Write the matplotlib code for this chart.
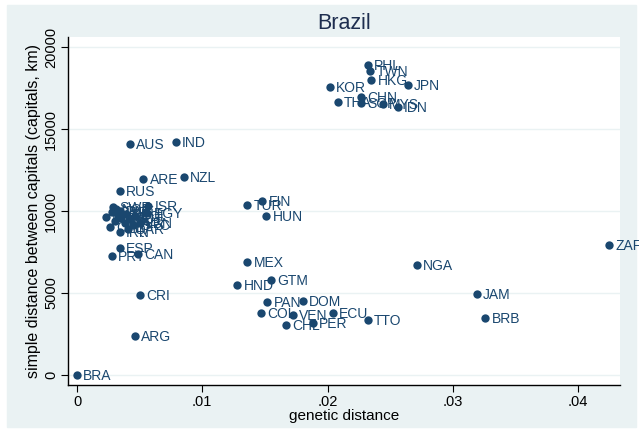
import matplotlib.pyplot as plt
from matplotlib.patches import Rectangle

plt.rcParams['font.family'] = ['Liberation Sans', 'DejaVu Sans']

# country codes, genetic distance, distance between capitals (km)
codes = ['BRA', 'ARG', 'CRI', 'PRT', 'ESP', 'CAN', 'AUS', 'IND', 'ARE', 'NZL',
         'RUS', 'SWE', 'NOR', 'DNK', 'ISR', 'EGY', 'GBR', 'IRL', 'NLD', 'BEL',
         'DEU', 'FRA', 'AUT', 'ITA', 'POL', 'GRC', 'IRN', 'QAR', 'LBN', 'CHE',
         'PHL', 'TWN', 'HKG', 'JPN', 'KOR', 'CHN', 'THA', 'SGP', 'MYS', 'IDN',
         'FIN', 'TUR', 'HUN', 'MEX', 'GTM', 'HND', 'PAN', 'DOM', 'COL', 'VEN',
         'ECU', 'CHL', 'PER', 'TTO', 'NGA', 'JAM', 'BRB', 'ZAF']
gen_dist = [0.0000, 0.0046, 0.0050, 0.0028, 0.0034, 0.0049, 0.0042, 0.0079, 0.0053, 0.0085,
            0.0034, 0.0029, 0.0031, 0.0034, 0.0057, 0.0056, 0.0028, 0.0023, 0.0033, 0.0035,
            0.0039, 0.0030, 0.0042, 0.0038, 0.0046, 0.0045, 0.0034, 0.0041, 0.0050, 0.0026,
            0.0232, 0.0234, 0.0235, 0.0264, 0.0202, 0.0227, 0.0208, 0.0227, 0.0244, 0.0256,
            0.0148, 0.0136, 0.0151, 0.0136, 0.0155, 0.0128, 0.0152, 0.0180, 0.0147, 0.0172,
            0.0204, 0.0167, 0.0188, 0.0232, 0.0271, 0.0319, 0.0326, 0.0425]
cap_dist = [0, 2380, 4880, 7260, 7740, 7380, 14090, 14210, 11950, 12070,
            11220, 10240, 10120, 10000, 10300, 9880, 9940, 9630, 9760, 9570,
            9820, 9390, 9510, 9270, 9700, 9150, 8720, 8900, 9270, 9020,
            18900, 18540, 17990, 17680, 17560, 16950, 16650, 16590, 16520, 16340,
            10610, 10370, 9700, 6890, 5790, 5490, 4450, 4510, 3780, 3660,
            3780, 3050, 3170, 3350, 6710, 4940, 3480, 7930]

navy = '#1a476f'
bg = '#eaf2f3'

fig = plt.figure(figsize=(6.39, 4.30), dpi=100)
fig.add_artist(Rectangle((7 / 639, 3 / 430), 629 / 639, 422 / 430,
                         transform=fig.transFigure, color=bg, zorder=-10))

ax = fig.add_axes([68 / 639, 1 - 385 / 430, 552 / 639, 348 / 430])
ax.set_zorder(1)
ax.set_facecolor('white')
ax.scatter(gen_dist, cap_dist, s=36, color=navy, zorder=3, linewidths=0)
for c, x, y in zip(codes, gen_dist, cap_dist):
    ax.annotate(c, (x, y), xytext=(4.5, -1), textcoords='offset points',
                ha='left', va='center', fontsize=10, color=navy, zorder=4,
                annotation_clip=False)

ax.set_xlim(-0.00072, 0.04334)
ax.set_ylim(-610, 20610)
ax.set_xticks([0, 0.01, 0.02, 0.03, 0.04])
ax.set_xticklabels(['0', '.01', '.02', '.03', '.04'])
ax.set_yticks([0, 5000, 10000, 15000, 20000])
ax.set_yticklabels(['0', '5000', '10000', '15000', '20000'], rotation=90, va='center')
ax.tick_params(labelsize=10.5, length=5, color='black', labelcolor='black', pad=2)
ax.yaxis.grid(True, color=bg, linewidth=1)
ax.set_axisbelow(True)
for s in ['top', 'right']:
    ax.spines[s].set_visible(False)
for s in ['left', 'bottom']:
    ax.spines[s].set_linewidth(1)

ax.set_xlabel('genetic distance', fontsize=11, labelpad=0)
ax.set_ylabel('simple distance between capitals (capitals, km)', fontsize=11.5, labelpad=2)
ax.set_title('Brazil', fontsize=15.5, color='#1e2e4f', pad=6)

fig.savefig('out.png', dpi=100)
